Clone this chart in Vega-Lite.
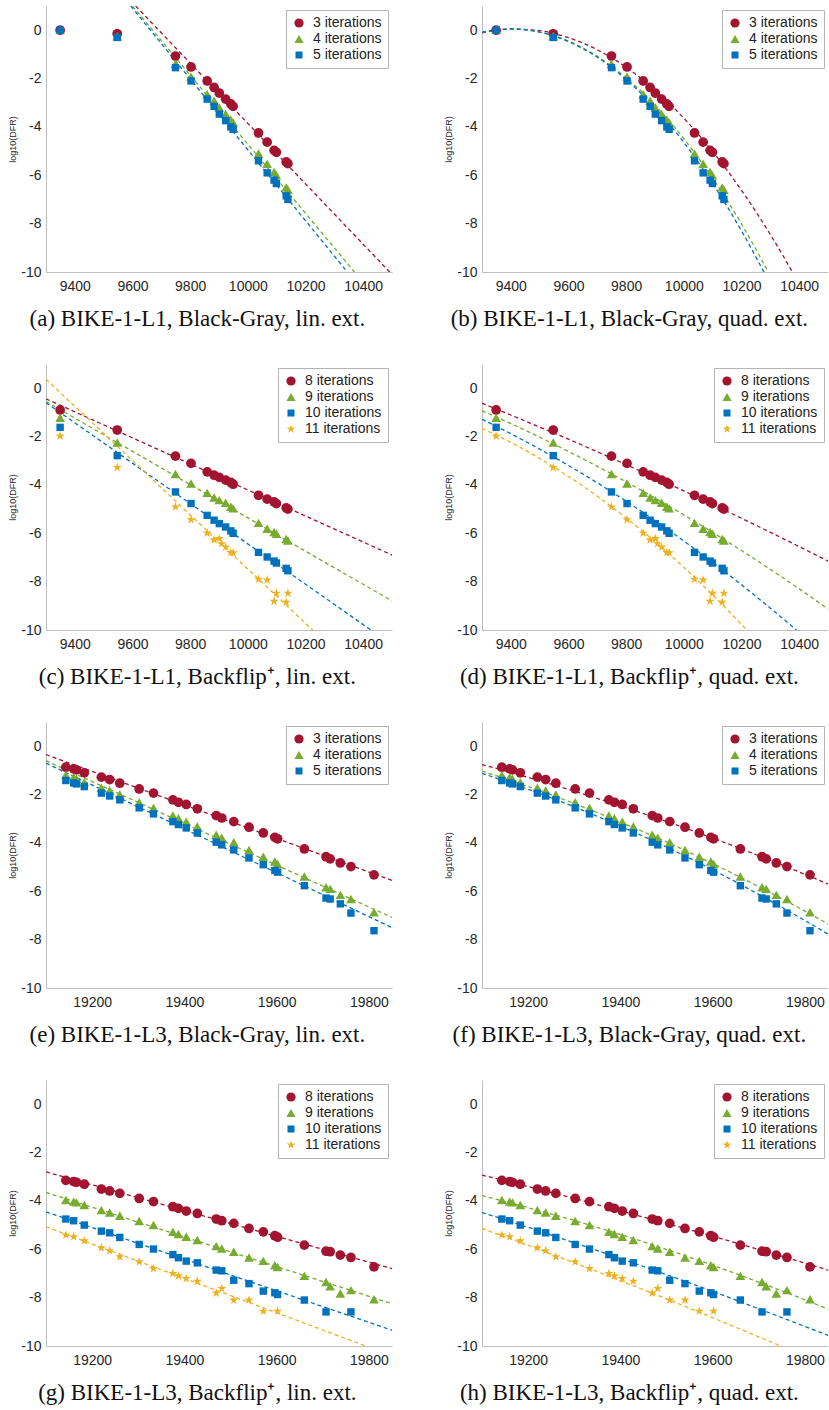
{
"$schema": "https://vega.github.io/schema/vega-lite/v6.json",
"padding": {"left": 8, "top": 6, "right": 0, "bottom": 0},
"spacing": 33,
"resolve": {"scale": {"color": "independent", "shape": "independent", "stroke": "independent"}},
"datasets": {
"bg1": [
{"x":9349,"y":0,"s":"3 iterations"},{"x":9547,"y":-0.15,"s":"3 iterations"},{"x":9749,"y":-1.07,"s":"3 iterations"},{"x":9803,"y":-1.52,"s":"3 iterations"},{"x":9859,"y":-2.1,"s":"3 iterations"},{"x":9883,"y":-2.37,"s":"3 iterations"},{"x":9901,"y":-2.6,"s":"3 iterations"},{"x":9923,"y":-2.85,"s":"3 iterations"},{"x":9941,"y":-3.05,"s":"3 iterations"},{"x":9949,"y":-3.15,"s":"3 iterations"},{"x":10037,"y":-4.25,"s":"3 iterations"},{"x":10067,"y":-4.63,"s":"3 iterations"},{"x":10091,"y":-4.97,"s":"3 iterations"},{"x":10099,"y":-5.05,"s":"3 iterations"},{"x":10133,"y":-5.45,"s":"3 iterations"},{"x":10139,"y":-5.52,"s":"3 iterations"},
{"x":9349,"y":0.02,"s":"4 iterations"},{"x":9547,"y":-0.25,"s":"4 iterations"},{"x":9749,"y":-1.4,"s":"4 iterations"},{"x":9803,"y":-1.92,"s":"4 iterations"},{"x":9859,"y":-2.65,"s":"4 iterations"},{"x":9883,"y":-2.92,"s":"4 iterations"},{"x":9901,"y":-3.2,"s":"4 iterations"},{"x":9923,"y":-3.47,"s":"4 iterations"},{"x":9941,"y":-3.7,"s":"4 iterations"},{"x":9949,"y":-3.82,"s":"4 iterations"},{"x":10037,"y":-5.1,"s":"4 iterations"},{"x":10067,"y":-5.52,"s":"4 iterations"},{"x":10091,"y":-5.86,"s":"4 iterations"},{"x":10099,"y":-6.0,"s":"4 iterations"},{"x":10133,"y":-6.5,"s":"4 iterations"},{"x":10139,"y":-6.6,"s":"4 iterations"},
{"x":9349,"y":0,"s":"5 iterations"},{"x":9547,"y":-0.3,"s":"5 iterations"},{"x":9749,"y":-1.55,"s":"5 iterations"},{"x":9803,"y":-2.1,"s":"5 iterations"},{"x":9859,"y":-2.85,"s":"5 iterations"},{"x":9883,"y":-3.15,"s":"5 iterations"},{"x":9901,"y":-3.47,"s":"5 iterations"},{"x":9923,"y":-3.74,"s":"5 iterations"},{"x":9941,"y":-4.0,"s":"5 iterations"},{"x":9949,"y":-4.1,"s":"5 iterations"},{"x":10037,"y":-5.4,"s":"5 iterations"},{"x":10067,"y":-5.9,"s":"5 iterations"},{"x":10091,"y":-6.2,"s":"5 iterations"},{"x":10099,"y":-6.34,"s":"5 iterations"},{"x":10133,"y":-6.85,"s":"5 iterations"},{"x":10139,"y":-7.0,"s":"5 iterations"}
],
"bf1": [
{"x":9349,"y":-0.9,"s":"8 iterations"},{"x":9547,"y":-1.73,"s":"8 iterations"},{"x":9749,"y":-2.81,"s":"8 iterations"},{"x":9803,"y":-3.11,"s":"8 iterations"},{"x":9859,"y":-3.46,"s":"8 iterations"},{"x":9883,"y":-3.6,"s":"8 iterations"},{"x":9901,"y":-3.69,"s":"8 iterations"},{"x":9923,"y":-3.8,"s":"8 iterations"},{"x":9941,"y":-3.9,"s":"8 iterations"},{"x":9949,"y":-3.97,"s":"8 iterations"},{"x":10037,"y":-4.43,"s":"8 iterations"},{"x":10067,"y":-4.59,"s":"8 iterations"},{"x":10091,"y":-4.7,"s":"8 iterations"},{"x":10099,"y":-4.77,"s":"8 iterations"},{"x":10133,"y":-4.95,"s":"8 iterations"},{"x":10139,"y":-5.0,"s":"8 iterations"},
{"x":9349,"y":-1.22,"s":"9 iterations"},{"x":9547,"y":-2.25,"s":"9 iterations"},{"x":9749,"y":-3.55,"s":"9 iterations"},{"x":9803,"y":-3.94,"s":"9 iterations"},{"x":9859,"y":-4.33,"s":"9 iterations"},{"x":9883,"y":-4.52,"s":"9 iterations"},{"x":9901,"y":-4.63,"s":"9 iterations"},{"x":9923,"y":-4.74,"s":"9 iterations"},{"x":9941,"y":-4.9,"s":"9 iterations"},{"x":9949,"y":-4.97,"s":"9 iterations"},{"x":10037,"y":-5.57,"s":"9 iterations"},{"x":10067,"y":-5.81,"s":"9 iterations"},{"x":10091,"y":-5.95,"s":"9 iterations"},{"x":10099,"y":-6.02,"s":"9 iterations"},{"x":10133,"y":-6.24,"s":"9 iterations"},{"x":10139,"y":-6.3,"s":"9 iterations"},
{"x":9349,"y":-1.62,"s":"10 iterations"},{"x":9547,"y":-2.79,"s":"10 iterations"},{"x":9749,"y":-4.29,"s":"10 iterations"},{"x":9803,"y":-4.77,"s":"10 iterations"},{"x":9859,"y":-5.26,"s":"10 iterations"},{"x":9883,"y":-5.46,"s":"10 iterations"},{"x":9901,"y":-5.6,"s":"10 iterations"},{"x":9923,"y":-5.74,"s":"10 iterations"},{"x":9941,"y":-5.9,"s":"10 iterations"},{"x":9949,"y":-6.0,"s":"10 iterations"},{"x":10037,"y":-6.79,"s":"10 iterations"},{"x":10067,"y":-6.98,"s":"10 iterations"},{"x":10091,"y":-7.15,"s":"10 iterations"},{"x":10099,"y":-7.23,"s":"10 iterations"},{"x":10133,"y":-7.45,"s":"10 iterations"},{"x":10139,"y":-7.55,"s":"10 iterations"},
{"x":9349,"y":-1.98,"s":"11 iterations"},{"x":9547,"y":-3.28,"s":"11 iterations"},{"x":9749,"y":-4.91,"s":"11 iterations"},{"x":9803,"y":-5.44,"s":"11 iterations"},{"x":9859,"y":-5.99,"s":"11 iterations"},{"x":9883,"y":-6.27,"s":"11 iterations"},{"x":9901,"y":-6.22,"s":"11 iterations"},{"x":9909,"y":-6.43,"s":"11 iterations"},{"x":9923,"y":-6.57,"s":"11 iterations"},{"x":9941,"y":-6.8,"s":"11 iterations"},{"x":9949,"y":-6.81,"s":"11 iterations"},{"x":10037,"y":-7.9,"s":"11 iterations"},{"x":10067,"y":-7.93,"s":"11 iterations"},{"x":10091,"y":-8.81,"s":"11 iterations"},{"x":10099,"y":-8.48,"s":"11 iterations"},{"x":10133,"y":-8.85,"s":"11 iterations"},{"x":10139,"y":-8.48,"s":"11 iterations"}
],
"bg3": [
{"x":19143,"y":-0.87,"s":"3 iterations"},{"x":19160,"y":-0.94,"s":"3 iterations"},{"x":19166,"y":-0.98,"s":"3 iterations"},{"x":19183,"y":-1.1,"s":"3 iterations"},{"x":19220,"y":-1.28,"s":"3 iterations"},{"x":19238,"y":-1.38,"s":"3 iterations"},{"x":19260,"y":-1.53,"s":"3 iterations"},{"x":19302,"y":-1.77,"s":"3 iterations"},{"x":19333,"y":-1.94,"s":"3 iterations"},{"x":19375,"y":-2.22,"s":"3 iterations"},{"x":19387,"y":-2.32,"s":"3 iterations"},{"x":19404,"y":-2.41,"s":"3 iterations"},{"x":19428,"y":-2.59,"s":"3 iterations"},{"x":19469,"y":-2.87,"s":"3 iterations"},{"x":19481,"y":-2.97,"s":"3 iterations"},{"x":19507,"y":-3.12,"s":"3 iterations"},{"x":19540,"y":-3.35,"s":"3 iterations"},{"x":19571,"y":-3.59,"s":"3 iterations"},{"x":19596,"y":-3.77,"s":"3 iterations"},{"x":19602,"y":-3.83,"s":"3 iterations"},{"x":19660,"y":-4.25,"s":"3 iterations"},{"x":19707,"y":-4.57,"s":"3 iterations"},{"x":19716,"y":-4.66,"s":"3 iterations"},{"x":19738,"y":-4.83,"s":"3 iterations"},{"x":19761,"y":-4.98,"s":"3 iterations"},{"x":19811,"y":-5.32,"s":"3 iterations"},
{"x":19143,"y":-1.19,"s":"4 iterations"},{"x":19160,"y":-1.28,"s":"4 iterations"},{"x":19166,"y":-1.35,"s":"4 iterations"},{"x":19183,"y":-1.49,"s":"4 iterations"},{"x":19220,"y":-1.72,"s":"4 iterations"},{"x":19238,"y":-1.83,"s":"4 iterations"},{"x":19260,"y":-2.0,"s":"4 iterations"},{"x":19302,"y":-2.32,"s":"4 iterations"},{"x":19333,"y":-2.55,"s":"4 iterations"},{"x":19375,"y":-2.87,"s":"4 iterations"},{"x":19387,"y":-2.98,"s":"4 iterations"},{"x":19404,"y":-3.12,"s":"4 iterations"},{"x":19428,"y":-3.32,"s":"4 iterations"},{"x":19469,"y":-3.66,"s":"4 iterations"},{"x":19481,"y":-3.79,"s":"4 iterations"},{"x":19507,"y":-3.97,"s":"4 iterations"},{"x":19540,"y":-4.29,"s":"4 iterations"},{"x":19571,"y":-4.57,"s":"4 iterations"},{"x":19596,"y":-4.77,"s":"4 iterations"},{"x":19602,"y":-4.87,"s":"4 iterations"},{"x":19660,"y":-5.39,"s":"4 iterations"},{"x":19707,"y":-5.83,"s":"4 iterations"},{"x":19716,"y":-5.9,"s":"4 iterations"},{"x":19738,"y":-6.15,"s":"4 iterations"},{"x":19761,"y":-6.32,"s":"4 iterations"},{"x":19811,"y":-6.87,"s":"4 iterations"},
{"x":19143,"y":-1.42,"s":"5 iterations"},{"x":19160,"y":-1.52,"s":"5 iterations"},{"x":19166,"y":-1.56,"s":"5 iterations"},{"x":19183,"y":-1.67,"s":"5 iterations"},{"x":19220,"y":-1.94,"s":"5 iterations"},{"x":19238,"y":-2.06,"s":"5 iterations"},{"x":19260,"y":-2.22,"s":"5 iterations"},{"x":19302,"y":-2.55,"s":"5 iterations"},{"x":19333,"y":-2.8,"s":"5 iterations"},{"x":19375,"y":-3.12,"s":"5 iterations"},{"x":19387,"y":-3.24,"s":"5 iterations"},{"x":19404,"y":-3.38,"s":"5 iterations"},{"x":19428,"y":-3.59,"s":"5 iterations"},{"x":19469,"y":-3.97,"s":"5 iterations"},{"x":19481,"y":-4.08,"s":"5 iterations"},{"x":19507,"y":-4.29,"s":"5 iterations"},{"x":19540,"y":-4.62,"s":"5 iterations"},{"x":19571,"y":-4.9,"s":"5 iterations"},{"x":19596,"y":-5.14,"s":"5 iterations"},{"x":19602,"y":-5.21,"s":"5 iterations"},{"x":19660,"y":-5.77,"s":"5 iterations"},{"x":19707,"y":-6.28,"s":"5 iterations"},{"x":19716,"y":-6.32,"s":"5 iterations"},{"x":19738,"y":-6.52,"s":"5 iterations"},{"x":19761,"y":-6.9,"s":"5 iterations"},{"x":19811,"y":-7.63,"s":"5 iterations"}
],
"bf3": [
{"x":19143,"y":-3.15,"s":"8 iterations"},{"x":19160,"y":-3.2,"s":"8 iterations"},{"x":19166,"y":-3.23,"s":"8 iterations"},{"x":19183,"y":-3.31,"s":"8 iterations"},{"x":19220,"y":-3.51,"s":"8 iterations"},{"x":19238,"y":-3.59,"s":"8 iterations"},{"x":19260,"y":-3.69,"s":"8 iterations"},{"x":19302,"y":-3.9,"s":"8 iterations"},{"x":19333,"y":-4.03,"s":"8 iterations"},{"x":19375,"y":-4.24,"s":"8 iterations"},{"x":19387,"y":-4.31,"s":"8 iterations"},{"x":19404,"y":-4.42,"s":"8 iterations"},{"x":19428,"y":-4.52,"s":"8 iterations"},{"x":19469,"y":-4.75,"s":"8 iterations"},{"x":19481,"y":-4.82,"s":"8 iterations"},{"x":19507,"y":-4.93,"s":"8 iterations"},{"x":19540,"y":-5.14,"s":"8 iterations"},{"x":19571,"y":-5.28,"s":"8 iterations"},{"x":19596,"y":-5.44,"s":"8 iterations"},{"x":19602,"y":-5.5,"s":"8 iterations"},{"x":19660,"y":-5.83,"s":"8 iterations"},{"x":19707,"y":-6.08,"s":"8 iterations"},{"x":19716,"y":-6.1,"s":"8 iterations"},{"x":19738,"y":-6.24,"s":"8 iterations"},{"x":19761,"y":-6.34,"s":"8 iterations"},{"x":19811,"y":-6.73,"s":"8 iterations"},
{"x":19143,"y":-3.96,"s":"9 iterations"},{"x":19160,"y":-4.03,"s":"9 iterations"},{"x":19166,"y":-4.06,"s":"9 iterations"},{"x":19183,"y":-4.17,"s":"9 iterations"},{"x":19220,"y":-4.38,"s":"9 iterations"},{"x":19238,"y":-4.48,"s":"9 iterations"},{"x":19260,"y":-4.61,"s":"9 iterations"},{"x":19302,"y":-4.83,"s":"9 iterations"},{"x":19333,"y":-5.0,"s":"9 iterations"},{"x":19375,"y":-5.28,"s":"9 iterations"},{"x":19387,"y":-5.37,"s":"9 iterations"},{"x":19404,"y":-5.48,"s":"9 iterations"},{"x":19428,"y":-5.62,"s":"9 iterations"},{"x":19469,"y":-5.87,"s":"9 iterations"},{"x":19481,"y":-5.97,"s":"9 iterations"},{"x":19507,"y":-6.1,"s":"9 iterations"},{"x":19540,"y":-6.34,"s":"9 iterations"},{"x":19571,"y":-6.48,"s":"9 iterations"},{"x":19596,"y":-6.66,"s":"9 iterations"},{"x":19602,"y":-6.73,"s":"9 iterations"},{"x":19660,"y":-7.1,"s":"9 iterations"},{"x":19707,"y":-7.35,"s":"9 iterations"},{"x":19716,"y":-7.53,"s":"9 iterations"},{"x":19738,"y":-7.83,"s":"9 iterations"},{"x":19761,"y":-7.69,"s":"9 iterations"},{"x":19811,"y":-8.07,"s":"9 iterations"},
{"x":19143,"y":-4.75,"s":"10 iterations"},{"x":19160,"y":-4.82,"s":"10 iterations"},{"x":19183,"y":-5.0,"s":"10 iterations"},{"x":19220,"y":-5.25,"s":"10 iterations"},{"x":19238,"y":-5.32,"s":"10 iterations"},{"x":19260,"y":-5.51,"s":"10 iterations"},{"x":19302,"y":-5.8,"s":"10 iterations"},{"x":19333,"y":-5.99,"s":"10 iterations"},{"x":19375,"y":-6.22,"s":"10 iterations"},{"x":19387,"y":-6.35,"s":"10 iterations"},{"x":19404,"y":-6.49,"s":"10 iterations"},{"x":19428,"y":-6.56,"s":"10 iterations"},{"x":19469,"y":-6.86,"s":"10 iterations"},{"x":19481,"y":-6.89,"s":"10 iterations"},{"x":19507,"y":-7.28,"s":"10 iterations"},{"x":19540,"y":-7.42,"s":"10 iterations"},{"x":19571,"y":-7.73,"s":"10 iterations"},{"x":19596,"y":-7.8,"s":"10 iterations"},{"x":19602,"y":-7.87,"s":"10 iterations"},{"x":19660,"y":-8.1,"s":"10 iterations"},{"x":19707,"y":-8.59,"s":"10 iterations"},{"x":19761,"y":-8.59,"s":"10 iterations"},
{"x":19143,"y":-5.41,"s":"11 iterations"},{"x":19160,"y":-5.48,"s":"11 iterations"},{"x":19183,"y":-5.65,"s":"11 iterations"},{"x":19220,"y":-5.94,"s":"11 iterations"},{"x":19238,"y":-6.06,"s":"11 iterations"},{"x":19260,"y":-6.31,"s":"11 iterations"},{"x":19302,"y":-6.52,"s":"11 iterations"},{"x":19333,"y":-6.8,"s":"11 iterations"},{"x":19375,"y":-7.0,"s":"11 iterations"},{"x":19387,"y":-7.1,"s":"11 iterations"},{"x":19404,"y":-7.21,"s":"11 iterations"},{"x":19428,"y":-7.32,"s":"11 iterations"},{"x":19469,"y":-7.81,"s":"11 iterations"},{"x":19481,"y":-7.62,"s":"11 iterations"},{"x":19507,"y":-8.1,"s":"11 iterations"},{"x":19540,"y":-8.1,"s":"11 iterations"},{"x":19571,"y":-8.56,"s":"11 iterations"},{"x":19602,"y":-8.56,"s":"11 iterations"}
],
"la": [
{"x":9611,"y":1,"s":"3 iterations"},{"x":10492,"y":-10,"s":"3 iterations"},
{"x":9600,"y":1,"s":"4 iterations"},{"x":10370,"y":-10,"s":"4 iterations"},
{"x":9594,"y":1,"s":"5 iterations"},{"x":10345,"y":-10,"s":"5 iterations"}
],
"lb": [
{"x":9300,"y":-0.11,"s":"3 iterations"},{"x":9400,"y":0.05,"s":"3 iterations"},{"x":9500,"y":-0.02,"s":"3 iterations"},{"x":9600,"y":-0.31,"s":"3 iterations"},{"x":9700,"y":-0.81,"s":"3 iterations"},{"x":9800,"y":-1.53,"s":"3 iterations"},{"x":9900,"y":-2.48,"s":"3 iterations"},{"x":10000,"y":-3.64,"s":"3 iterations"},{"x":10100,"y":-5.02,"s":"3 iterations"},{"x":10200,"y":-6.62,"s":"3 iterations"},{"x":10300,"y":-8.45,"s":"3 iterations"},{"x":10400,"y":-10.49,"s":"3 iterations"},
{"x":9300,"y":-0.08,"s":"4 iterations"},{"x":9400,"y":0.05,"s":"4 iterations"},{"x":9500,"y":-0.08,"s":"4 iterations"},{"x":9600,"y":-0.45,"s":"4 iterations"},{"x":9700,"y":-1.08,"s":"4 iterations"},{"x":9800,"y":-1.97,"s":"4 iterations"},{"x":9900,"y":-3.1,"s":"4 iterations"},{"x":10000,"y":-4.49,"s":"4 iterations"},{"x":10100,"y":-6.12,"s":"4 iterations"},{"x":10200,"y":-8.01,"s":"4 iterations"},{"x":10300,"y":-10.16,"s":"4 iterations"},
{"x":9300,"y":-0.08,"s":"5 iterations"},{"x":9400,"y":0.05,"s":"5 iterations"},{"x":9500,"y":-0.08,"s":"5 iterations"},{"x":9600,"y":-0.47,"s":"5 iterations"},{"x":9700,"y":-1.12,"s":"5 iterations"},{"x":9800,"y":-2.04,"s":"5 iterations"},{"x":9900,"y":-3.21,"s":"5 iterations"},{"x":10000,"y":-4.64,"s":"5 iterations"},{"x":10100,"y":-6.34,"s":"5 iterations"},{"x":10200,"y":-8.3,"s":"5 iterations"},{"x":10300,"y":-10.51,"s":"5 iterations"}
],
"lc": [
{"x":9300,"y":-0.44,"s":"8 iterations"},{"x":10500,"y":-6.9,"s":"8 iterations"},
{"x":9300,"y":-0.55,"s":"9 iterations"},{"x":10500,"y":-8.8,"s":"9 iterations"},
{"x":9300,"y":-0.6,"s":"10 iterations"},{"x":10427,"y":-10,"s":"10 iterations"},
{"x":9300,"y":0.37,"s":"11 iterations"},{"x":10225,"y":-10,"s":"11 iterations"}
],
"ld": [
{"x":9300,"y":-0.62,"s":"8 iterations"},{"x":9400,"y":-1.11,"s":"8 iterations"},{"x":9500,"y":-1.61,"s":"8 iterations"},{"x":9600,"y":-2.11,"s":"8 iterations"},{"x":9700,"y":-2.63,"s":"8 iterations"},{"x":9800,"y":-3.16,"s":"8 iterations"},{"x":9900,"y":-3.7,"s":"8 iterations"},{"x":10000,"y":-4.25,"s":"8 iterations"},{"x":10100,"y":-4.81,"s":"8 iterations"},{"x":10200,"y":-5.38,"s":"8 iterations"},{"x":10300,"y":-5.96,"s":"8 iterations"},{"x":10400,"y":-6.55,"s":"8 iterations"},{"x":10500,"y":-7.15,"s":"8 iterations"},
{"x":9300,"y":-0.93,"s":"9 iterations"},{"x":9400,"y":-1.465,"s":"9 iterations"},{"x":9500,"y":-2.027,"s":"9 iterations"},{"x":9600,"y":-2.616,"s":"9 iterations"},{"x":9700,"y":-3.232,"s":"9 iterations"},{"x":9800,"y":-3.875,"s":"9 iterations"},{"x":9900,"y":-4.544,"s":"9 iterations"},{"x":10000,"y":-5.241,"s":"9 iterations"},{"x":10100,"y":-5.965,"s":"9 iterations"},{"x":10200,"y":-6.715,"s":"9 iterations"},{"x":10300,"y":-7.493,"s":"9 iterations"},{"x":10400,"y":-8.297,"s":"9 iterations"},{"x":10500,"y":-9.13,"s":"9 iterations"},
{"x":9300,"y":-1.29,"s":"10 iterations"},{"x":9400,"y":-1.883,"s":"10 iterations"},{"x":9500,"y":-2.519,"s":"10 iterations"},{"x":9600,"y":-3.197,"s":"10 iterations"},{"x":9700,"y":-3.914,"s":"10 iterations"},{"x":9800,"y":-4.675,"s":"10 iterations"},{"x":9900,"y":-5.477,"s":"10 iterations"},{"x":10000,"y":-6.32,"s":"10 iterations"},{"x":10100,"y":-7.205,"s":"10 iterations"},{"x":10200,"y":-8.131,"s":"10 iterations"},{"x":10300,"y":-9.096,"s":"10 iterations"},{"x":10400,"y":-10.1,"s":"10 iterations"},
{"x":9300,"y":-1.66,"s":"11 iterations"},{"x":9400,"y":-2.243,"s":"11 iterations"},{"x":9500,"y":-2.906,"s":"11 iterations"},{"x":9600,"y":-3.649,"s":"11 iterations"},{"x":9700,"y":-4.47,"s":"11 iterations"},{"x":9800,"y":-5.37,"s":"11 iterations"},{"x":9900,"y":-6.35,"s":"11 iterations"},{"x":10000,"y":-7.41,"s":"11 iterations"},{"x":10100,"y":-8.55,"s":"11 iterations"},{"x":10200,"y":-9.77,"s":"11 iterations"},{"x":10300,"y":-11.07,"s":"11 iterations"}
],
"le": [
{"x":19100,"y":-0.35,"s":"3 iterations"},{"x":19850,"y":-5.55,"s":"3 iterations"},
{"x":19100,"y":-0.6,"s":"4 iterations"},{"x":19850,"y":-7.08,"s":"4 iterations"},
{"x":19100,"y":-0.7,"s":"5 iterations"},{"x":19850,"y":-7.5,"s":"5 iterations"}
],
"lf": [
{"x":19100,"y":-0.76,"s":"3 iterations"},{"x":19200,"y":-1.29,"s":"3 iterations"},{"x":19300,"y":-1.86,"s":"3 iterations"},{"x":19400,"y":-2.47,"s":"3 iterations"},{"x":19500,"y":-3.11,"s":"3 iterations"},{"x":19600,"y":-3.8,"s":"3 iterations"},{"x":19700,"y":-4.53,"s":"3 iterations"},{"x":19800,"y":-5.3,"s":"3 iterations"},{"x":19850,"y":-5.7,"s":"3 iterations"},
{"x":19100,"y":-1.03,"s":"4 iterations"},{"x":19200,"y":-1.67,"s":"4 iterations"},{"x":19300,"y":-2.37,"s":"4 iterations"},{"x":19400,"y":-3.14,"s":"4 iterations"},{"x":19500,"y":-3.96,"s":"4 iterations"},{"x":19600,"y":-4.85,"s":"4 iterations"},{"x":19700,"y":-5.81,"s":"4 iterations"},{"x":19800,"y":-6.82,"s":"4 iterations"},{"x":19850,"y":-7.35,"s":"4 iterations"},
{"x":19100,"y":-1.12,"s":"5 iterations"},{"x":19200,"y":-1.78,"s":"5 iterations"},{"x":19300,"y":-2.51,"s":"5 iterations"},{"x":19400,"y":-3.31,"s":"5 iterations"},{"x":19500,"y":-4.17,"s":"5 iterations"},{"x":19600,"y":-5.11,"s":"5 iterations"},{"x":19700,"y":-6.13,"s":"5 iterations"},{"x":19800,"y":-7.21,"s":"5 iterations"},{"x":19850,"y":-7.77,"s":"5 iterations"}
],
"lg": [
{"x":19100,"y":-2.8,"s":"8 iterations"},{"x":19850,"y":-6.8,"s":"8 iterations"},
{"x":19100,"y":-3.65,"s":"9 iterations"},{"x":19850,"y":-8.25,"s":"9 iterations"},
{"x":19100,"y":-4.45,"s":"10 iterations"},{"x":19850,"y":-9.35,"s":"10 iterations"},
{"x":19100,"y":-5.07,"s":"11 iterations"},{"x":19793,"y":-10,"s":"11 iterations"}
],
"lh": [
{"x":19100,"y":-2.93,"s":"8 iterations"},{"x":19200,"y":-3.41,"s":"8 iterations"},{"x":19300,"y":-3.9,"s":"8 iterations"},{"x":19400,"y":-4.41,"s":"8 iterations"},{"x":19500,"y":-4.93,"s":"8 iterations"},{"x":19600,"y":-5.46,"s":"8 iterations"},{"x":19700,"y":-6.01,"s":"8 iterations"},{"x":19800,"y":-6.57,"s":"8 iterations"},{"x":19850,"y":-6.86,"s":"8 iterations"},
{"x":19100,"y":-3.78,"s":"9 iterations"},{"x":19200,"y":-4.28,"s":"9 iterations"},{"x":19300,"y":-4.81,"s":"9 iterations"},{"x":19400,"y":-5.39,"s":"9 iterations"},{"x":19500,"y":-6.01,"s":"9 iterations"},{"x":19600,"y":-6.66,"s":"9 iterations"},{"x":19700,"y":-7.36,"s":"9 iterations"},{"x":19800,"y":-8.09,"s":"9 iterations"},{"x":19850,"y":-8.48,"s":"9 iterations"},
{"x":19100,"y":-4.48,"s":"10 iterations"},{"x":19200,"y":-5.09,"s":"10 iterations"},{"x":19300,"y":-5.73,"s":"10 iterations"},{"x":19400,"y":-6.38,"s":"10 iterations"},{"x":19500,"y":-7.05,"s":"10 iterations"},{"x":19600,"y":-7.74,"s":"10 iterations"},{"x":19700,"y":-8.46,"s":"10 iterations"},{"x":19800,"y":-9.19,"s":"10 iterations"},{"x":19850,"y":-9.56,"s":"10 iterations"},
{"x":19100,"y":-5.14,"s":"11 iterations"},{"x":19200,"y":-5.84,"s":"11 iterations"},{"x":19300,"y":-6.56,"s":"11 iterations"},{"x":19400,"y":-7.3,"s":"11 iterations"},{"x":19500,"y":-8.05,"s":"11 iterations"},{"x":19600,"y":-8.83,"s":"11 iterations"},{"x":19700,"y":-9.62,"s":"11 iterations"},{"x":19800,"y":-10.43,"s":"11 iterations"}
]
},
"vconcat": [
{"spacing": 52, "resolve": {"scale": {"color": "independent", "shape": "independent", "stroke": "independent"}},
"hconcat": [
{"width": 346, "height": 266, "title": {"text": "(a) BIKE-1-L1, Black-Gray, lin. ext.", "orient": "bottom", "dx": -3},
"layer": [
{"data": {"name": "la"}, "mark": {"type": "line", "clip": true, "strokeDash": [4, 3], "strokeWidth": 1.3},
"encoding": {"x": {"field": "x", "type": "quantitative", "scale": {"domain": [9300, 10500], "nice": false, "zero": false}, "axis": {"values": [9400, 9600, 9800, 10000, 10200, 10400], "format": "d", "title": null}},
"y": {"field": "y", "type": "quantitative", "scale": {"domain": [-10, 1], "nice": false, "zero": false}, "axis": {"values": [-10, -8, -6, -4, -2, 0], "labelExpr": "datum.value < 0 ? '-' + (-datum.value) : '' + datum.value", "title": "log10(DFR)"}},
"stroke": {"field": "s", "type": "nominal", "scale": {"domain": ["5 iterations", "4 iterations", "3 iterations"], "range": ["#0072BD", "#77AC30", "#A2142F"]}, "legend": null}}},
{"data": {"name": "bg1"}, "mark": {"type": "point", "filled": true, "opacity": 1, "size": 95},
"encoding": {"x": {"field": "x", "type": "quantitative"}, "y": {"field": "y", "type": "quantitative"},
"color": {"field": "s", "type": "nominal", "scale": {"domain": ["3 iterations", "4 iterations", "5 iterations"], "range": ["#A2142F", "#77AC30", "#0072BD"]}, "legend": {"title": null, "orient": "top-right"}},
"shape": {"field": "s", "type": "nominal", "scale": {"domain": ["3 iterations", "4 iterations", "5 iterations"], "range": ["circle", "triangle-up", "M-0.76,-0.76H0.76V0.76H-0.76Z"]}, "legend": {"title": null, "orient": "top-right"}}}}
]},
{"width": 346, "height": 266, "title": {"text": "(b) BIKE-1-L1, Black-Gray, quad. ext.", "orient": "bottom", "dx": -7},
"layer": [
{"data": {"name": "lb"}, "mark": {"type": "line", "clip": true, "strokeDash": [4, 3], "strokeWidth": 1.3, "interpolate": "monotone"},
"encoding": {"x": {"field": "x", "type": "quantitative", "scale": {"domain": [9300, 10500], "nice": false, "zero": false}, "axis": {"values": [9400, 9600, 9800, 10000, 10200, 10400], "format": "d", "title": null}},
"y": {"field": "y", "type": "quantitative", "scale": {"domain": [-10, 1], "nice": false, "zero": false}, "axis": {"values": [-10, -8, -6, -4, -2, 0], "labelExpr": "datum.value < 0 ? '-' + (-datum.value) : '' + datum.value", "title": "log10(DFR)"}},
"stroke": {"field": "s", "type": "nominal", "scale": {"domain": ["5 iterations", "4 iterations", "3 iterations"], "range": ["#0072BD", "#77AC30", "#A2142F"]}, "legend": null}}},
{"data": {"name": "bg1"}, "mark": {"type": "point", "filled": true, "opacity": 1, "size": 95},
"encoding": {"x": {"field": "x", "type": "quantitative"}, "y": {"field": "y", "type": "quantitative"},
"color": {"field": "s", "type": "nominal", "scale": {"domain": ["3 iterations", "4 iterations", "5 iterations"], "range": ["#A2142F", "#77AC30", "#0072BD"]}, "legend": {"title": null, "orient": "top-right"}},
"shape": {"field": "s", "type": "nominal", "scale": {"domain": ["3 iterations", "4 iterations", "5 iterations"], "range": ["circle", "triangle-up", "M-0.76,-0.76H0.76V0.76H-0.76Z"]}, "legend": {"title": null, "orient": "top-right"}}}}
]}
]},
{"spacing": 52, "resolve": {"scale": {"color": "independent", "shape": "independent", "stroke": "independent"}},
"hconcat": [
{"width": 346, "height": 266, "title": {"text": "(c) BIKE-1-L1, Backflip⁺, lin. ext.", "orient": "bottom", "dx": -3},
"layer": [
{"data": {"name": "lc"}, "mark": {"type": "line", "clip": true, "strokeDash": [4, 3], "strokeWidth": 1.3},
"encoding": {"x": {"field": "x", "type": "quantitative", "scale": {"domain": [9300, 10500], "nice": false, "zero": false}, "axis": {"values": [9400, 9600, 9800, 10000, 10200, 10400], "format": "d", "title": null}},
"y": {"field": "y", "type": "quantitative", "scale": {"domain": [-10, 1], "nice": false, "zero": false}, "axis": {"values": [-10, -8, -6, -4, -2, 0], "labelExpr": "datum.value < 0 ? '-' + (-datum.value) : '' + datum.value", "title": "log10(DFR)"}},
"stroke": {"field": "s", "type": "nominal", "scale": {"domain": ["11 iterations", "10 iterations", "9 iterations", "8 iterations"], "range": ["#EDB120", "#0072BD", "#77AC30", "#A2142F"]}, "legend": null}}},
{"data": {"name": "bf1"}, "mark": {"type": "point", "filled": true, "opacity": 1, "size": 95},
"encoding": {"x": {"field": "x", "type": "quantitative"}, "y": {"field": "y", "type": "quantitative"},
"color": {"field": "s", "type": "nominal", "scale": {"domain": ["8 iterations", "9 iterations", "10 iterations", "11 iterations"], "range": ["#A2142F", "#77AC30", "#0072BD", "#EDB120"]}, "legend": {"title": null, "orient": "top-right"}},
"shape": {"field": "s", "type": "nominal", "scale": {"domain": ["8 iterations", "9 iterations", "10 iterations", "11 iterations"], "range": ["circle", "triangle-up", "M-0.76,-0.76H0.76V0.76H-0.76Z", "M0,-1L0.2245,-0.309L0.9511,-0.309L0.3633,0.118L0.5878,0.809L0,0.382L-0.5878,0.809L-0.3633,0.118L-0.9511,-0.309L-0.2245,-0.309Z"]}, "legend": {"title": null, "orient": "top-right"}}}}
]},
{"width": 346, "height": 266, "title": {"text": "(d) BIKE-1-L1, Backflip⁺, quad. ext.", "orient": "bottom", "dx": -7},
"layer": [
{"data": {"name": "ld"}, "mark": {"type": "line", "clip": true, "strokeDash": [4, 3], "strokeWidth": 1.3, "interpolate": "monotone"},
"encoding": {"x": {"field": "x", "type": "quantitative", "scale": {"domain": [9300, 10500], "nice": false, "zero": false}, "axis": {"values": [9400, 9600, 9800, 10000, 10200, 10400], "format": "d", "title": null}},
"y": {"field": "y", "type": "quantitative", "scale": {"domain": [-10, 1], "nice": false, "zero": false}, "axis": {"values": [-10, -8, -6, -4, -2, 0], "labelExpr": "datum.value < 0 ? '-' + (-datum.value) : '' + datum.value", "title": "log10(DFR)"}},
"stroke": {"field": "s", "type": "nominal", "scale": {"domain": ["11 iterations", "10 iterations", "9 iterations", "8 iterations"], "range": ["#EDB120", "#0072BD", "#77AC30", "#A2142F"]}, "legend": null}}},
{"data": {"name": "bf1"}, "mark": {"type": "point", "filled": true, "opacity": 1, "size": 95},
"encoding": {"x": {"field": "x", "type": "quantitative"}, "y": {"field": "y", "type": "quantitative"},
"color": {"field": "s", "type": "nominal", "scale": {"domain": ["8 iterations", "9 iterations", "10 iterations", "11 iterations"], "range": ["#A2142F", "#77AC30", "#0072BD", "#EDB120"]}, "legend": {"title": null, "orient": "top-right"}},
"shape": {"field": "s", "type": "nominal", "scale": {"domain": ["8 iterations", "9 iterations", "10 iterations", "11 iterations"], "range": ["circle", "triangle-up", "M-0.76,-0.76H0.76V0.76H-0.76Z", "M0,-1L0.2245,-0.309L0.9511,-0.309L0.3633,0.118L0.5878,0.809L0,0.382L-0.5878,0.809L-0.3633,0.118L-0.9511,-0.309L-0.2245,-0.309Z"]}, "legend": {"title": null, "orient": "top-right"}}}}
]}
]},
{"spacing": 52, "resolve": {"scale": {"color": "independent", "shape": "independent", "stroke": "independent"}},
"hconcat": [
{"width": 346, "height": 266, "title": {"text": "(e) BIKE-1-L3, Black-Gray, lin. ext.", "orient": "bottom", "dx": -3},
"layer": [
{"data": {"name": "le"}, "mark": {"type": "line", "clip": true, "strokeDash": [4, 3], "strokeWidth": 1.3},
"encoding": {"x": {"field": "x", "type": "quantitative", "scale": {"domain": [19100, 19850], "nice": false, "zero": false}, "axis": {"values": [19200, 19400, 19600, 19800], "format": "d", "title": null}},
"y": {"field": "y", "type": "quantitative", "scale": {"domain": [-10, 1], "nice": false, "zero": false}, "axis": {"values": [-10, -8, -6, -4, -2, 0], "labelExpr": "datum.value < 0 ? '-' + (-datum.value) : '' + datum.value", "title": "log10(DFR)"}},
"stroke": {"field": "s", "type": "nominal", "scale": {"domain": ["5 iterations", "4 iterations", "3 iterations"], "range": ["#0072BD", "#77AC30", "#A2142F"]}, "legend": null}}},
{"data": {"name": "bg3"}, "mark": {"type": "point", "filled": true, "opacity": 1, "size": 95},
"encoding": {"x": {"field": "x", "type": "quantitative"}, "y": {"field": "y", "type": "quantitative"},
"color": {"field": "s", "type": "nominal", "scale": {"domain": ["3 iterations", "4 iterations", "5 iterations"], "range": ["#A2142F", "#77AC30", "#0072BD"]}, "legend": {"title": null, "orient": "top-right"}},
"shape": {"field": "s", "type": "nominal", "scale": {"domain": ["3 iterations", "4 iterations", "5 iterations"], "range": ["circle", "triangle-up", "M-0.76,-0.76H0.76V0.76H-0.76Z"]}, "legend": {"title": null, "orient": "top-right"}}}}
]},
{"width": 346, "height": 266, "title": {"text": "(f) BIKE-1-L3, Black-Gray, quad. ext.", "orient": "bottom", "dx": -7},
"layer": [
{"data": {"name": "lf"}, "mark": {"type": "line", "clip": true, "strokeDash": [4, 3], "strokeWidth": 1.3, "interpolate": "monotone"},
"encoding": {"x": {"field": "x", "type": "quantitative", "scale": {"domain": [19100, 19850], "nice": false, "zero": false}, "axis": {"values": [19200, 19400, 19600, 19800], "format": "d", "title": null}},
"y": {"field": "y", "type": "quantitative", "scale": {"domain": [-10, 1], "nice": false, "zero": false}, "axis": {"values": [-10, -8, -6, -4, -2, 0], "labelExpr": "datum.value < 0 ? '-' + (-datum.value) : '' + datum.value", "title": "log10(DFR)"}},
"stroke": {"field": "s", "type": "nominal", "scale": {"domain": ["5 iterations", "4 iterations", "3 iterations"], "range": ["#0072BD", "#77AC30", "#A2142F"]}, "legend": null}}},
{"data": {"name": "bg3"}, "mark": {"type": "point", "filled": true, "opacity": 1, "size": 95},
"encoding": {"x": {"field": "x", "type": "quantitative"}, "y": {"field": "y", "type": "quantitative"},
"color": {"field": "s", "type": "nominal", "scale": {"domain": ["3 iterations", "4 iterations", "5 iterations"], "range": ["#A2142F", "#77AC30", "#0072BD"]}, "legend": {"title": null, "orient": "top-right"}},
"shape": {"field": "s", "type": "nominal", "scale": {"domain": ["3 iterations", "4 iterations", "5 iterations"], "range": ["circle", "triangle-up", "M-0.76,-0.76H0.76V0.76H-0.76Z"]}, "legend": {"title": null, "orient": "top-right"}}}}
]}
]},
{"spacing": 52, "resolve": {"scale": {"color": "independent", "shape": "independent", "stroke": "independent"}},
"hconcat": [
{"width": 346, "height": 266, "title": {"text": "(g) BIKE-1-L3, Backflip⁺, lin. ext.", "orient": "bottom", "dx": -3},
"layer": [
{"data": {"name": "lg"}, "mark": {"type": "line", "clip": true, "strokeDash": [4, 3], "strokeWidth": 1.3},
"encoding": {"x": {"field": "x", "type": "quantitative", "scale": {"domain": [19100, 19850], "nice": false, "zero": false}, "axis": {"values": [19200, 19400, 19600, 19800], "format": "d", "title": null}},
"y": {"field": "y", "type": "quantitative", "scale": {"domain": [-10, 1], "nice": false, "zero": false}, "axis": {"values": [-10, -8, -6, -4, -2, 0], "labelExpr": "datum.value < 0 ? '-' + (-datum.value) : '' + datum.value", "title": "log10(DFR)"}},
"stroke": {"field": "s", "type": "nominal", "scale": {"domain": ["11 iterations", "10 iterations", "9 iterations", "8 iterations"], "range": ["#EDB120", "#0072BD", "#77AC30", "#A2142F"]}, "legend": null}}},
{"data": {"name": "bf3"}, "mark": {"type": "point", "filled": true, "opacity": 1, "size": 95},
"encoding": {"x": {"field": "x", "type": "quantitative"}, "y": {"field": "y", "type": "quantitative"},
"color": {"field": "s", "type": "nominal", "scale": {"domain": ["8 iterations", "9 iterations", "10 iterations", "11 iterations"], "range": ["#A2142F", "#77AC30", "#0072BD", "#EDB120"]}, "legend": {"title": null, "orient": "top-right"}},
"shape": {"field": "s", "type": "nominal", "scale": {"domain": ["8 iterations", "9 iterations", "10 iterations", "11 iterations"], "range": ["circle", "triangle-up", "M-0.76,-0.76H0.76V0.76H-0.76Z", "M0,-1L0.2245,-0.309L0.9511,-0.309L0.3633,0.118L0.5878,0.809L0,0.382L-0.5878,0.809L-0.3633,0.118L-0.9511,-0.309L-0.2245,-0.309Z"]}, "legend": {"title": null, "orient": "top-right"}}}}
]},
{"width": 346, "height": 266, "title": {"text": "(h) BIKE-1-L3, Backflip⁺, quad. ext.", "orient": "bottom", "dx": -7},
"layer": [
{"data": {"name": "lh"}, "mark": {"type": "line", "clip": true, "strokeDash": [4, 3], "strokeWidth": 1.3, "interpolate": "monotone"},
"encoding": {"x": {"field": "x", "type": "quantitative", "scale": {"domain": [19100, 19850], "nice": false, "zero": false}, "axis": {"values": [19200, 19400, 19600, 19800], "format": "d", "title": null}},
"y": {"field": "y", "type": "quantitative", "scale": {"domain": [-10, 1], "nice": false, "zero": false}, "axis": {"values": [-10, -8, -6, -4, -2, 0], "labelExpr": "datum.value < 0 ? '-' + (-datum.value) : '' + datum.value", "title": "log10(DFR)"}},
"stroke": {"field": "s", "type": "nominal", "scale": {"domain": ["11 iterations", "10 iterations", "9 iterations", "8 iterations"], "range": ["#EDB120", "#0072BD", "#77AC30", "#A2142F"]}, "legend": null}}},
{"data": {"name": "bf3"}, "mark": {"type": "point", "filled": true, "opacity": 1, "size": 95},
"encoding": {"x": {"field": "x", "type": "quantitative"}, "y": {"field": "y", "type": "quantitative"},
"color": {"field": "s", "type": "nominal", "scale": {"domain": ["8 iterations", "9 iterations", "10 iterations", "11 iterations"], "range": ["#A2142F", "#77AC30", "#0072BD", "#EDB120"]}, "legend": {"title": null, "orient": "top-right"}},
"shape": {"field": "s", "type": "nominal", "scale": {"domain": ["8 iterations", "9 iterations", "10 iterations", "11 iterations"], "range": ["circle", "triangle-up", "M-0.76,-0.76H0.76V0.76H-0.76Z", "M0,-1L0.2245,-0.309L0.9511,-0.309L0.3633,0.118L0.5878,0.809L0,0.382L-0.5878,0.809L-0.3633,0.118L-0.9511,-0.309L-0.2245,-0.309Z"]}, "legend": {"title": null, "orient": "top-right"}}}}
]}
]}
],
"config": {
"view": {"stroke": null},
"axis": {"domainColor": "#bdbdbd", "domainWidth": 1, "ticks": false, "grid": false, "labelFont": "Liberation Sans", "labelFontSize": 14, "labelColor": "#262626", "titleFont": "Liberation Sans", "titleFontSize": 9, "titleFontWeight": "normal", "titleColor": "#262626", "labelOverlap": false},
"axisX": {"labelPadding": 7},
"axisY": {"labelPadding": 5, "titlePadding": 3},
"title": {"anchor": "middle", "frame": "bounds", "font": "Liberation Serif", "fontSize": 23, "fontWeight": "normal", "color": "#111111", "offset": 15},
"legend": {"offset": 4, "labelFont": "Liberation Sans", "labelFontSize": 14, "labelColor": "#222222", "symbolSize": 85, "strokeColor": "#b5b5b5", "fillColor": "#ffffff", "padding": 6, "rowPadding": 2, "labelOffset": 7}
}
}
